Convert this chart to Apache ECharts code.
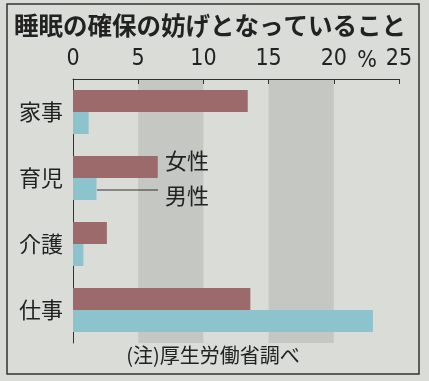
<!DOCTYPE html>
<html>
<head>
<meta charset="utf-8">
<script src="https://cdn.jsdelivr.net/npm/echarts@6/dist/echarts.min.js"></script>
<style>
html,body{margin:0;padding:0;background:#d9dcd7;}
#chart{width:429px;height:381px;}
</style>
</head>
<body>
<div id="chart"></div>
<script>
const categories = ['家事', '育児', '介護', '仕事'];
const female = [13.4, 6.5, 2.6, 13.6];
const male = [1.2, 1.8, 0.8, 23.0];
const tickValues = [0, 5, 10, 15, 20, 25];

const cjk = '"Noto Sans CJK JP", "Noto Sans", sans-serif';
const numFont = '"Liberation Sans Narrow", "DejaVu Sans Condensed", "Liberation Sans", sans-serif';

const chart = echarts.init(document.getElementById('chart'), null, {renderer: 'canvas'});
chart.setOption({
  backgroundColor: '#d9dcd7',
  animation: false,
  grid: {left: 73, right: 30, top: 79, bottom: 38, containLabel: false},
  xAxis: {
    type: 'value',
    position: 'top',
    min: 0, max: 25, interval: 5,
    axisLine: {show: true, lineStyle: {color: '#333', width: 1}},
    axisTick: {show: true, inside: true, length: 5, lineStyle: {color: '#333'}},
    axisLabel: {
      margin: 8, fontSize: 23, color: '#222', fontFamily: numFont,
      formatter: v => tickValues.includes(v) ? String(v) : ''
    },
    splitLine: {show: false},
    splitArea: {show: true, areaStyle: {color: ['rgba(0,0,0,0)', '#c5c7c3']}}
  },
  yAxis: {
    type: 'category',
    data: categories,
    inverse: true,
    axisLine: {show: true, lineStyle: {color: '#333', width: 1}},
    axisTick: {show: false},
    axisLabel: {margin: 10, fontSize: 22, color: '#222', fontFamily: cjk}
  },
  series: [
    {name: '女性', type: 'bar', data: female, barWidth: 22, barGap: '0%',
     itemStyle: {color: '#9d6a6c'}},
    {name: '男性', type: 'bar', data: male, barWidth: 22, barGap: '0%',
     itemStyle: {color: '#8dc3cc'}}
  ],
  graphic: [
    {type: 'rect', shape: {x: 7, y: 4, width: 412, height: 370}, z: 100,
     style: {fill: 'none', stroke: '#333', lineWidth: 1.5}},
    {type: 'text', left: 14, top: 13, z: 100,
     style: {text: '睡眠の確保の妨げとなっていること', font: 'bold 24.5px ' + cjk, fill: '#222'}},
    {type: 'text', x: 367, y: 61, z: 100,
     style: {text: '%', font: '23px ' + numFont, fill: '#222', align: 'center', verticalAlign: 'middle'}},
    {type: 'text', x: 165, y: 161, z: 100,
     style: {text: '女性', font: '22px ' + cjk, fill: '#222', verticalAlign: 'middle'}},
    {type: 'text', x: 165, y: 196, z: 100,
     style: {text: '男性', font: '22px ' + cjk, fill: '#222', verticalAlign: 'middle'}},
    {type: 'line', shape: {x1: 97, y1: 190, x2: 158, y2: 190}, z: 100,
     style: {stroke: '#333', lineWidth: 1}},
    {type: 'text', x: 213, y: 355, z: 100,
     style: {text: '(注)厚生労働省調べ', font: '20px ' + cjk, fill: '#222', align: 'center', verticalAlign: 'middle'}}
  ]
});
</script>
</body>
</html>
